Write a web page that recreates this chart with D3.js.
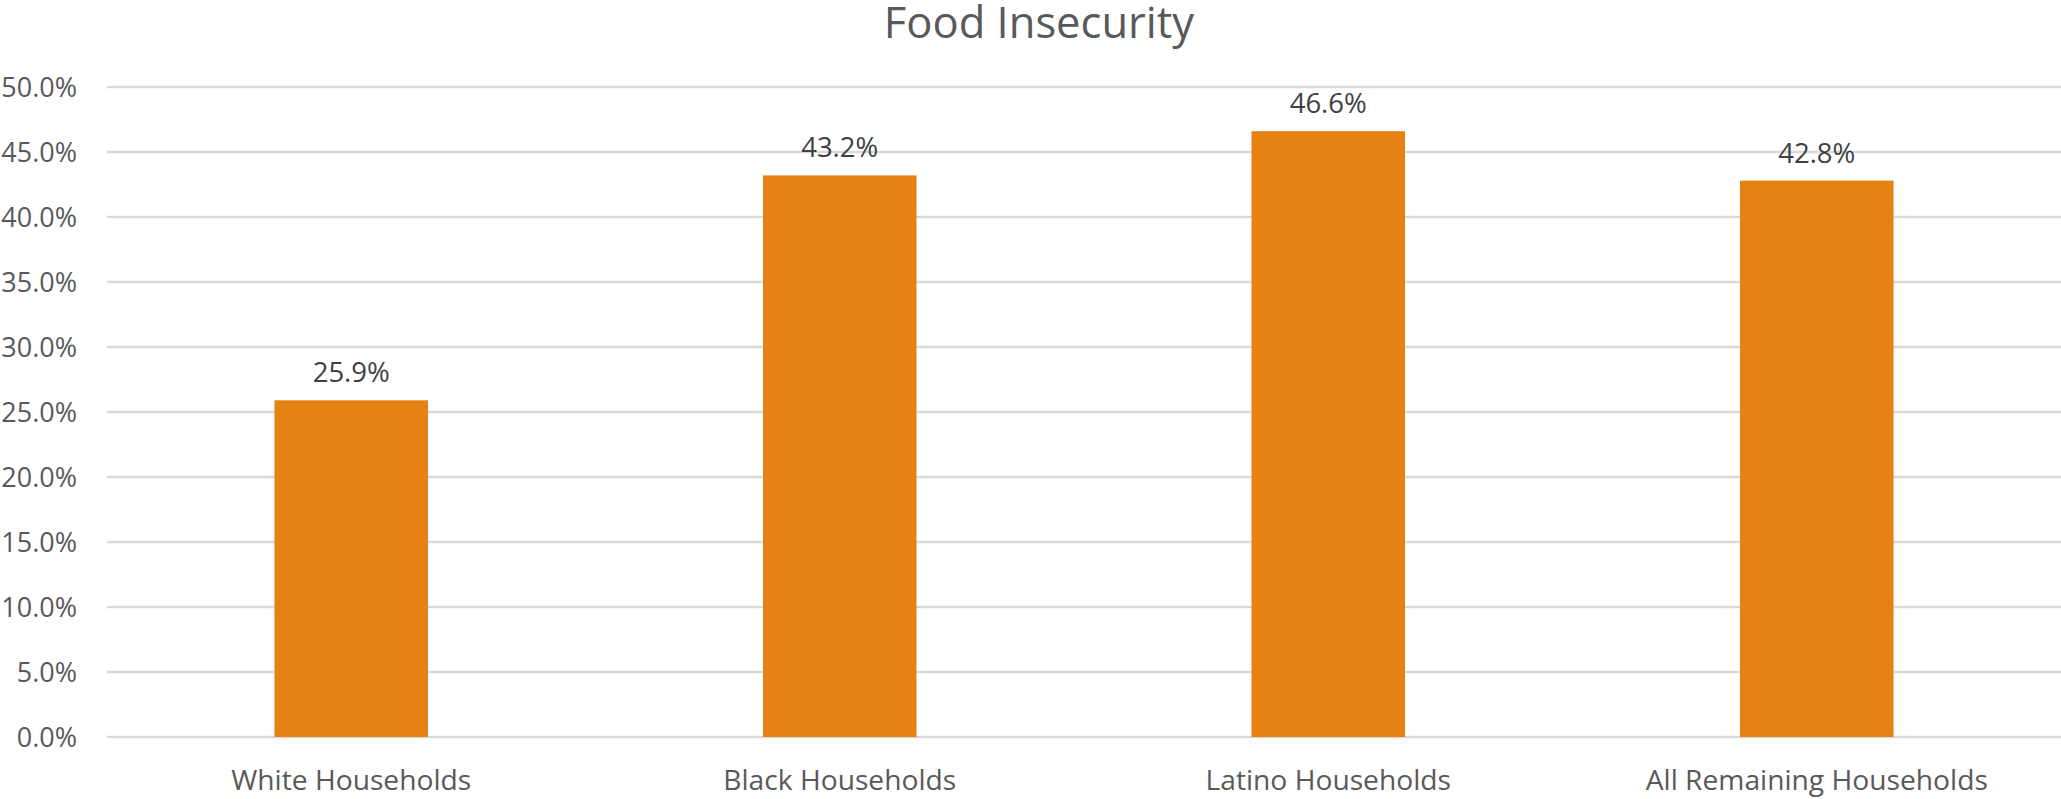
<!DOCTYPE html>
<html>
<head>
<meta charset="utf-8">
<script src="https://cdn.jsdelivr.net/npm/d3@7"></script>
<style>
  html, body { margin: 0; padding: 0; background: #ffffff; }
  svg { display: block; font-family: "Open Sans", "Noto Sans", sans-serif; }
</style>
</head>
<body>
<svg id="chart" width="2061" height="799"></svg>
<script>
const title = "Food Insecurity";
const categories = ["White Households", "Black Households", "Latino Households", "All Remaining Households"];
const values = [0.259, 0.432, 0.466, 0.428];
const valueLabels = ["25.9%", "43.2%", "46.6%", "42.8%"];
const yTicks = [0, 0.05, 0.10, 0.15, 0.20, 0.25, 0.30, 0.35, 0.40, 0.45, 0.50];

const W = 2061, H = 799;
const margin = { top: 87, right: 0, bottom: 62, left: 107 };
const svg = d3.select("#chart");

const x = d3.scaleBand()
  .domain(categories)
  .range([margin.left, W - margin.right])
  .paddingInner(0.6857)
  .paddingOuter(0.3428);

const y = d3.scaleLinear()
  .domain([0, 0.5])
  .range([H - margin.bottom, margin.top]);

// Gridlines
svg.append("g")
  .selectAll("line")
  .data(yTicks)
  .join("line")
  .attr("x1", margin.left)
  .attr("x2", W - margin.right)
  .attr("y1", d => y(d))
  .attr("y2", d => y(d))
  .attr("stroke", "#d9d9d9")
  .attr("stroke-width", 2.5);

// Y axis labels
const fmt = d3.format(".1%");
const yAxis = d3.axisLeft(y).tickValues(yTicks).tickFormat(fmt).tickSize(0).tickPadding(0);
const yg = svg.append("g")
  .attr("transform", `translate(${margin.left - 30},0)`)
  .call(yAxis);
yg.select(".domain").remove();
yg.selectAll("text")
  .attr("fill", "#595959")
  .attr("font-size", 27)
  .attr("font-family", "'Open Sans', sans-serif")
  .attr("dy", "0.35em");

// Bars
svg.append("g")
  .selectAll("rect")
  .data(values)
  .join("rect")
  .attr("x", (d, i) => x(categories[i]))
  .attr("width", x.bandwidth())
  .attr("y", d => y(d))
  .attr("height", d => y(0) - y(d))
  .attr("fill", "#e58213");

// Value labels
svg.append("g")
  .selectAll("text")
  .data(values)
  .join("text")
  .attr("x", (d, i) => x(categories[i]) + x.bandwidth() / 2)
  .attr("y", d => y(d) - 18)
  .attr("text-anchor", "middle")
  .attr("fill", "#404040")
  .attr("font-size", 27.5)
  .text((d, i) => valueLabels[i]);

// X axis labels
const xAxis = d3.axisBottom(x).tickSize(0).tickPadding(0);
const xg = svg.append("g")
  .attr("transform", `translate(0,${y(0)})`)
  .call(xAxis);
xg.select(".domain").remove();
xg.selectAll("text")
  .attr("fill", "#595959")
  .attr("font-size", 28.2)
  .attr("font-family", "'Open Sans', sans-serif")
  .attr("dy", null)
  .attr("y", 53);

// Title
svg.append("text")
  .attr("x", 1039)
  .attr("y", 38)
  .attr("text-anchor", "middle")
  .attr("fill", "#595959")
  .attr("font-size", 43.5)
  .text(title);
</script>
</body>
</html>
